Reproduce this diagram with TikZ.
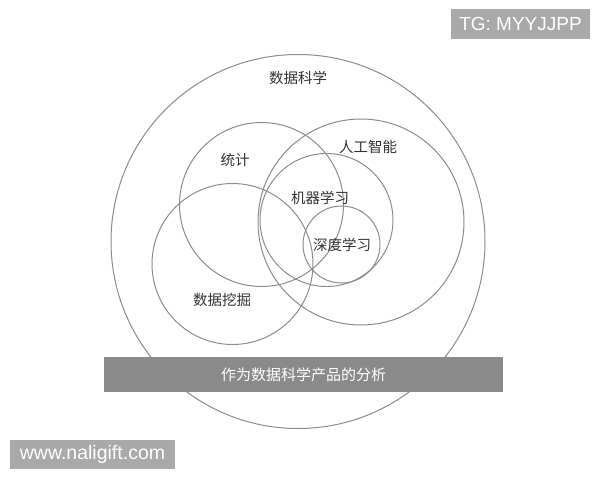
\documentclass[tikz,border=0pt]{standalone}
\usepackage{fontspec}
\setmainfont{Liberation Sans}
\newfontfamily\cjk{Noto Sans CJK SC}
\begin{document}
\begin{tikzpicture}[x=1pt,y=-1pt]
\definecolor{ringgray}{HTML}{8C8C8C}
\definecolor{bargray}{HTML}{8A8A8A}
\definecolor{taggray}{HTML}{A9A9A9}
\tikzset{
  ring/.style={circle,draw=ringgray,line width=1pt,inner sep=0pt,minimum size=#1},
  lbl/.style={font=\cjk\fontsize{14.5}{16}\selectfont,text=black!80,inner sep=0pt},
  bar/.style={fill=bargray,draw=none,minimum width=399pt,minimum height=35pt,inner sep=0pt,
    font=\cjk\fontsize{15}{17}\selectfont,text=white},
  tag/.style={fill=taggray,draw=none,inner sep=0pt,text=white}
}
\useasboundingbox (0,0) rectangle (600,480);
\fill[white] (0,0) rectangle (600,480);
% circles
\node[ring=374pt] (outer) at (298,241.5) {};
\node[ring=164pt] (stat) at (261.5,204.5) {};
\node[ring=161pt] (mining) at (232.5,264) {};
\node[ring=206pt] (ai) at (361,222) {};
\node[ring=133pt] (ml) at (326.5,220) {};
\node[ring=77pt] (dl) at (341.5,244.5) {};
% labels
\node[lbl] (tds) at (298,78) {数据科学};
\node[lbl] (tstat) at (235,160) {统计};
\node[lbl] (tai) at (368,147) {人工智能};
\node[lbl] (tml) at (320,198) {机器学习};
\node[lbl] (tdl) at (342,245) {深度学习};
\node[lbl] (tmin) at (222,300) {数据挖掘};
% bar
\node[bar] (band) at (303.5,374.5) {作为数据科学产品的分析};
% watermark tags
\node[tag,minimum width=139pt,minimum height=30pt,font=\fontsize{19}{21}\selectfont] (tg) at (520.5,24) {TG: MYYJJPP};
\node[tag,minimum width=165pt,minimum height=29pt,font=\fontsize{19.5}{21}\selectfont] (www) at (92.5,454.5) {www.naligift.com};
\end{tikzpicture}
\end{document}
